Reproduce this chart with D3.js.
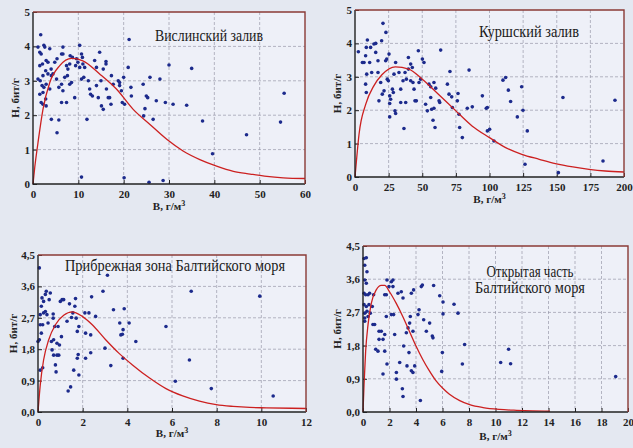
<!DOCTYPE html>
<html lang="ru">
<head>
<meta charset="utf-8">
<title>H vs B, four water areas</title>
<script src="https://d3js.org/d3.v7.min.js"></script>
<style>
  body { margin: 0; background: #e4e8f1; }
  svg { display: block; }
  .tick text { font-family: "Liberation Serif", "Times New Roman", "DejaVu Serif", serif; font-weight: bold; font-size: 11px; fill: #222; }
  .axis-title { font-family: "Liberation Serif", "Times New Roman", "DejaVu Serif", serif; font-weight: bold; font-size: 11px; fill: #222; }
  .panel-title { font-family: "Liberation Serif", "Times New Roman", "DejaVu Serif", serif; font-size: 16px; fill: #1a1a1a; }
</style>
</head>
<body>
<div id="chart"></div>
<script>
// ---- data: B (x) and H (y) ----
// Вислинский залив
var vislaB = [1.7,1.1,2.4,2.6,1.5,1.8,3.7,2.9,3.3,1.5,2.1,4.0,1.1,1.6,2.2,2.8,3.3,4.05,4.4,2.0,2.4,2.9,3.7,1.5,2.2,2.8,1.8,2.9,2.2,4.05,5.7,5.3,5.3,4.8,6.3,6.6,6.6,5.2,5.7,6.3,6.6,6.3,7.4,7.0,7.6,7.4,7.7,8.1,8.2,8.7,8.1,8.5,9.2,9.6,9.9,10.3,9.4,10.3,10.7,10.9,11.0,11.4,10.7,11.2,11.9,12.2,10.7,12.5,12.7,13.1,13.6,14.0,14.0,14.4,14.7,15.0,15.1,15.5,15.5,16.1,16.1,16.2,16.6,16.9,17.2,17.3,17.7,18.8,19.1,19.1,19.5,19.7,20.0,20.2,20.1,21.0,21.2,21.6,21.7,24.3,24.4,24.7,25.0,25.3,25.6,25.8,26.5,27.2,28.0,28.7,29.2,30.0,30.9,33.9,35.0,37.4,39.6,47.1,54.6,55.4];
var vislaH = [4.34,3.98,4.03,3.98,3.83,3.78,3.93,3.59,3.54,3.44,3.49,3.34,3.05,3.0,3.15,3.29,3.2,3.15,3.2,2.86,2.81,2.9,2.76,2.61,2.66,2.47,2.37,2.27,2.32,1.88,1.86,1.49,3.64,3.54,3.78,3.78,3.98,3.05,2.81,2.9,2.71,2.37,2.37,3.1,3.15,3.44,3.34,3.49,3.73,3.68,2.9,2.95,2.51,3.64,3.54,4.03,3.44,3.39,3.78,3.68,3.49,3.39,3.05,3.1,1.88,3.0,0.2,2.76,2.61,2.56,3.59,3.39,2.86,2.51,3.83,3.0,2.27,2.17,3.34,3.56,3.49,2.76,2.51,2.51,2.32,3.15,2.9,3.0,2.95,2.86,2.71,2.37,3.1,2.32,0.18,3.39,4.2,2.81,2.56,2.9,1.98,2.19,2.56,2.51,0.05,3.1,1.88,2.42,3.05,0.1,2.37,3.46,2.32,2.29,3.36,1.83,0.88,1.43,1.8,2.64];
var vislaCurveB = [0,0.4,1.1,2.2,3.7,5.9,8.5,11,14.7,18.4,22.1,25.8,29.5,33.1,36.8,40.5,44.2,47.9,51.6,55.2,60];
var vislaCurveH = [0,0.5,1.2,2.17,2.95,3.44,3.65,3.58,3.2,2.76,2.17,1.73,1.3,0.96,0.71,0.52,0.37,0.29,0.22,0.18,0.16];

// Куршский залив
var kurshB = [2.5,5.5,6.7,7.9,8.4,9.2,8.7,7.9,8.4,11.6,10.9,12.4,14.1,15.4,15.4,17.1,17.1,17.8,19.8,20.8,23.0,23.6,22.8,19.1,20.3,21.6,24.0,24.8,25.3,25.8,26.5,25.8,25.8,27.8,28.5,29.0,30.2,29.7,30.2,32.7,34.0,34.0,35.7,36.4,37.2,38.2,37.7,39.7,39.7,41.4,42.6,41.4,43.1,43.9,44.6,45.6,47.1,47.6,48.8,50.1,51.3,52.5,53.8,55.0,56.3,56.3,57.0,58.0,58.7,58.7,60.0,59.5,62.5,63.0,63.7,68.7,69.9,70.6,71.9,72.4,76.1,76.6,77.3,77.8,79.8,83.5,84.8,87.2,94.7,97.6,98.4,98.4,100.1,103.3,110.0,112.0,114.0,115.7,120.7,123.9,124.9,126.4,128.1,151.2,154.6,184.4,193.3];
var kurshH = [3.75,3.43,3.43,3.63,3.88,4.1,3.08,2.78,2.53,3.88,3.43,3.13,3.98,4.0,3.73,3.48,3.13,2.28,4.08,4.6,4.33,3.53,3.48,2.83,2.48,2.58,2.93,2.88,3.68,2.43,2.33,2.2,1.8,2.63,2.53,3.08,3.43,1.98,1.9,3.13,2.63,2.23,2.88,1.45,3.13,2.93,2.23,3.58,3.23,3.38,3.28,2.88,2.83,2.63,2.28,2.28,3.78,2.83,2.93,3.53,3.43,2.18,1.98,2.78,2.7,2.38,2.03,1.7,2.06,2.83,2.66,1.48,2.28,2.23,3.8,2.78,2.48,3.16,2.4,2.08,2.28,2.5,1.88,1.48,1.18,2.06,3.2,2.1,2.43,2.06,2.08,1.38,1.43,1.08,2.9,2.98,2.6,2.26,1.8,2.7,2.0,0.38,1.38,0.13,2.38,0.48,2.3];
var kurshCurveB = [0,1,3,8,14,20,30,40,50,62,75,87,100,112,124,137,149,162,174,186,200];
var kurshCurveH = [0,0.45,1.28,2.18,2.73,3.06,3.3,3.23,2.93,2.48,1.98,1.53,1.18,0.88,0.68,0.53,0.4,0.3,0.23,0.18,0.15];

// Прибрежная зона Балтийского моря
var coastB = [0.06,0.0,0.06,0.1,0.1,0.15,0.18,0.25,0.25,0.15,0.21,0.1,0.21,0.33,0.37,0.33,0.4,0.45,0.55,0.5,0.6,0.63,0.68,0.68,0.75,0.7,0.78,0.7,0.85,0.81,0.85,0.93,0.9,1.0,1.08,0.96,1.05,1.15,1.3,1.35,1.41,1.46,1.5,1.56,1.6,1.65,1.68,1.71,1.76,1.76,1.8,1.83,1.83,2.1,2.13,2.13,2.28,2.36,2.36,2.4,2.58,2.91,3.0,3.11,3.26,3.38,3.66,3.71,3.78,3.81,3.81,3.86,4.08,4.38,5.73,6.15,6.78,6.86,7.76,9.93,10.53];
var coastH = [4.13,2.02,2.07,2.5,2.79,3.03,3.27,3.17,2.84,2.26,2.5,1.2,1.27,3.37,3.46,2.88,2.79,2.55,3.41,3.22,2.02,1.78,2.81,2.69,2.45,1.63,1.35,2.07,1.97,1.15,1.63,1.63,2.45,3.17,3.22,1.92,2.16,3.22,2.6,0.6,3.1,0.72,2.71,2.84,1.2,3.03,3.25,2.69,2.31,1.54,1.65,2.45,1.06,2.84,2.26,1.54,2.84,2.21,1.7,3.3,2.74,3.46,1.83,3.92,1.33,2.93,2.55,2.21,2.23,2.36,1.54,2.96,2.55,2.02,2.45,0.88,1.49,3.46,0.67,3.32,0.46];
var coastCurveB = [0,0.1,0.25,0.48,0.78,1.15,1.53,1.98,2.43,3.03,3.63,4.23,4.98,5.73,6.48,7.23,7.98,8.73,9.48,10.23,12];
var coastCurveH = [0,0.77,1.49,2.07,2.5,2.77,2.87,2.74,2.5,2.07,1.68,1.35,0.98,0.67,0.46,0.31,0.21,0.16,0.13,0.12,0.1];

// Открытая часть Балтийского моря
var openB = [0.08,0.25,0.13,0.3,0.13,0.25,0.08,0.2,0.38,0.5,0.08,0.25,0.13,0.3,0.13,0.38,0.13,0.45,0.55,0.7,0.75,0.88,0.8,0.96,1.13,1.21,1.21,1.38,1.51,1.51,1.64,1.64,1.64,1.76,1.81,1.76,1.81,1.96,2.14,2.26,2.26,2.14,2.31,2.39,2.52,2.52,2.64,2.77,2.89,2.97,3.02,3.02,3.07,3.27,3.32,3.4,3.47,3.52,3.57,3.65,3.65,3.77,3.77,3.82,3.9,4.15,4.23,4.33,4.4,4.48,4.58,4.78,5.03,5.23,5.28,5.33,5.79,6.04,6.04,5.99,5.94,6.87,7.17,7.5,7.67,10.39,10.99,11.14,19.07];
var openH = [4.16,4.18,3.98,3.8,3.58,3.49,3.22,3.18,3.18,3.22,2.91,2.86,2.68,2.73,2.55,2.59,2.46,2.91,2.68,2.86,2.37,2.37,3.18,1.7,1.65,2.19,1.97,2.19,1.03,1.97,2.1,1.65,3.18,3.18,1.3,2.59,3.58,3.4,3.53,3.4,3.58,2.64,2.64,2.1,1.07,0.89,3.22,1.34,3.26,0.63,0.42,3.09,1.79,2.15,1.25,2.28,1.61,2.41,2.59,3.22,1.12,1.07,2.19,3.31,1.25,2.64,2.77,0.31,3.4,3.44,2.5,2.19,2.41,2.06,2.01,3.43,3.15,2.66,2.98,1.61,1.1,2.92,2.68,1.3,1.83,1.34,1.7,1.31,0.96];
var openCurveB = [0,0.08,0.2,0.38,0.63,1.0,1.38,1.64,2.0,2.5,3.0,3.5,4.0,4.5,5.0,5.5,6.0,6.5,7.3,8.05,9.06,10.3,11.6,12.8,14.1];
var openCurveH = [0,0.76,1.65,2.37,2.95,3.31,3.43,3.43,3.26,2.95,2.59,2.19,1.79,1.43,1.12,0.85,0.65,0.49,0.31,0.2,0.12,0.07,0.045,0.03,0.02];

// tick labels
var ticks5 = [0,1,2,3,4,5];
var ticks45 = [0,0.9,1.8,2.7,3.6,4.5];
var ticks45Labels = ["0,0","0,9","1,8","2,7","3,6","4,5"];
var visTicksX = [0,10,20,30,40,50,60];
var kurTicksX = [0,25,50,75,100,125,150,175,200];
var coastTicksX = [0,2,4,6,8,10,12];
var openTicksX = [0,2,4,6,8,10,12,14,16,18,20];

var W = 633, H = 448;
var serif = '"Liberation Serif", "Times New Roman", "DejaVu Serif", serif';
var svg = d3.select("#chart").append("svg").attr("width", W).attr("height", H);

svg.append("rect").attr("width", W).attr("height", H).attr("fill", "#e4e8f1");

function drawPanel(p) {
  var x = d3.scaleLinear().domain(p.xDomain).range([p.left, p.right]);
  var y = d3.scaleLinear().domain(p.yDomain).range([p.bottom, p.top]);
  var g = svg.append("g");

  g.append("rect")
    .attr("x", p.left).attr("y", p.top)
    .attr("width", p.right - p.left).attr("height", p.bottom - p.top)
    .attr("fill", "#eef0f8");

  // dashed grid
  g.selectAll(".gx").data(p.xTicks.slice(1, -1)).enter().append("line")
    .attr("x1", d => x(d)).attr("x2", d => x(d))
    .attr("y1", p.top).attr("y2", p.bottom)
    .attr("stroke", "#9a9aaa").attr("stroke-width", 0.7).attr("stroke-dasharray", "3,2");
  g.selectAll(".gy").data(p.yTicks.slice(1, -1)).enter().append("line")
    .attr("x1", p.left).attr("x2", p.right)
    .attr("y1", d => y(d)).attr("y2", d => y(d))
    .attr("stroke", "#9a9aaa").attr("stroke-width", 0.7).attr("stroke-dasharray", "3,2");

  // axes (inward ticks)
  var ax = g.append("g").attr("transform", "translate(0," + p.bottom + ")")
    .call(d3.axisBottom(x).tickValues(p.xTicks).tickSizeInner(-4).tickSizeOuter(0).tickPadding(6).tickFormat(d3.format("d")));
  ax.select(".domain").remove();
  ax.selectAll("line").attr("stroke", "#222");

  var ay = g.append("g").attr("transform", "translate(" + p.left + ",0)")
    .call(d3.axisLeft(y).tickValues(p.yTicks).tickSizeInner(-4).tickSizeOuter(0).tickPadding(3)
      .tickFormat((d, i) => p.yLabels ? p.yLabels[i] : d));
  ay.select(".domain").remove();
  ay.selectAll("line").attr("stroke", "#222");
  ax.attr("font-family", serif);
  ay.attr("font-family", serif);

  // points
  g.selectAll(".pt").data(p.B.map((b, i) => [b, p.H[i]])).enter().append("circle")
    .attr("cx", d => x(d[0])).attr("cy", d => y(d[1]))
    .attr("r", 1.8).attr("fill", "#1c2a8c");

  // fitted curve
  var line = d3.line().x(d => x(d[0])).y(d => y(d[1])).curve(d3.curveMonotoneX);
  g.append("path")
    .datum(p.cB.map((b, i) => [b, p.cH[i]]))
    .attr("d", line).attr("fill", "none")
    .attr("stroke", "#cc2020").attr("stroke-width", 1.3);

  // frame: left/bottom dark, top/right brownish red
  g.append("path")
    .attr("d", "M" + p.left + "," + p.top + "V" + p.bottom + "H" + p.right)
    .attr("fill", "none").attr("stroke", "#222").attr("stroke-width", 1.4);
  g.append("path")
    .attr("d", "M" + p.left + "," + p.top + "H" + p.right + "V" + p.bottom)
    .attr("fill", "none").attr("stroke", "#8a3a36").attr("stroke-width", 1.4);

  // axis titles
  g.append("text").attr("class", "axis-title")
    .attr("x", (p.left + p.right) / 2).attr("y", p.xTitleY)
    .attr("text-anchor", "middle")
    .html("B, г/м<tspan dy='-4' font-size='8'>3</tspan>");
  g.append("text").attr("class", "axis-title")
    .attr("transform", "translate(" + p.yTitleX + "," + (p.top + p.bottom) / 2 + ") rotate(-90)")
    .attr("text-anchor", "middle")
    .text("H, бит/г");

  // panel title (the scan uses a narrow face, so squeeze to its width)
  p.title.forEach(function (t, i) {
    g.append("text").attr("class", "panel-title")
      .attr("x", p.titleX).attr("y", p.titleY + i * 16)
      .attr("text-anchor", "middle")
      .attr("textLength", p.titleW[i]).attr("lengthAdjust", "spacingAndGlyphs")
      .text(t);
  });
}

drawPanel({
  left: 33, right: 305, top: 12, bottom: 184,
  xDomain: [0, 60], yDomain: [0, 5], xTicks: visTicksX, yTicks: ticks5,
  B: vislaB, H: vislaH, cB: vislaCurveB, cH: vislaCurveH,
  xTitleY: 210, yTitleX: 19, title: ["Вислинский залив"], titleW: [108], titleX: 209, titleY: 41
});
drawPanel({
  left: 355, right: 624, top: 10, bottom: 177,
  xDomain: [0, 200], yDomain: [0, 5], xTicks: kurTicksX, yTicks: ticks5,
  B: kurshB, H: kurshH, cB: kurshCurveB, cH: kurshCurveH,
  xTitleY: 203, yTitleX: 341, title: ["Куршский залив"], titleW: [100], titleX: 529, titleY: 37
});
drawPanel({
  left: 38, right: 306, top: 255, bottom: 412,
  xDomain: [0, 12], yDomain: [0, 4.5], xTicks: coastTicksX, yTicks: ticks45, yLabels: ticks45Labels,
  B: coastB, H: coastH, cB: coastCurveB, cH: coastCurveH,
  xTitleY: 437, yTitleX: 17, title: ["Прибрежная зона Балтийского моря"], titleW: [220], titleX: 175, titleY: 271
});
drawPanel({
  left: 363, right: 628, top: 246, bottom: 412,
  xDomain: [0, 20], yDomain: [0, 4.5], xTicks: openTicksX, yTicks: ticks45, yLabels: ticks45Labels,
  B: openB, H: openH, cB: openCurveB, cH: openCurveH,
  xTitleY: 440, yTitleX: 341, title: ["Открытая часть", "Балтийского моря"], titleW: [87, 110], titleX: 530, titleY: 277
});
</script>
</body>
</html>
